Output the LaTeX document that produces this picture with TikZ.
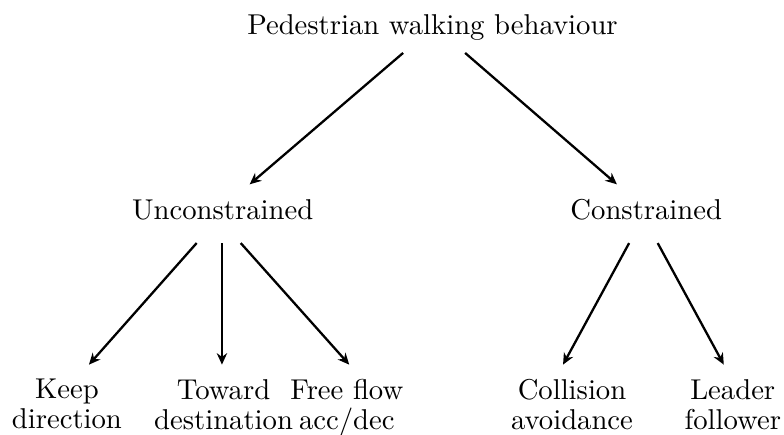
\documentclass[tikz,border=0pt]{standalone}
\usetikzlibrary{arrows.meta}

\tikzset{
  lbl/.style={inner sep=0pt, anchor=base},
  leaf/.style={inner sep=0pt, anchor=north, align=center},
  arr/.style={-{Stealth[length=4pt,width=3.6pt]}, thick}
}

\begin{document}
\begin{tikzpicture}
			\useasboundingbox (0,0) rectangle (9.608,5.319);
			% levels
			\node[lbl] (walk) at (5.30,4.89) {Pedestrian walking behaviour};
			\node[lbl] (unc) at (2.73,2.63) {Unconstrained};
			\node[lbl] (con) at (7.92,2.63) {Constrained};
			
			\node[leaf] (keep) at (0.82,0.68) {Keep\\[-1.5pt]direction};
			\node[leaf] (toward) at (2.74,0.68) {Toward\\[-1.5pt]destination};
			\node[leaf] (free) at (4.25,0.68) {Free flow\\[-1.5pt]acc/dec};
			\node[leaf] (coll) at (7.01,0.68) {Collision\\[-1.5pt]avoidance};
			\node[leaf] (lead) at (8.98,0.68) {Leader\\[-1.5pt]follower};
			
			\draw[arr] ([shift={(-0.36,-0.22)}]walk.base) -- ([shift={(0.33,0.43)}]unc.base);
			\draw[arr] ([shift={(0.40,-0.22)}]walk.base) -- ([shift={(-0.36,0.43)}]con.base);
			
			\draw[arr] ([shift={(-0.32,-0.29)}]unc.base) -- ([shift={(0.27,0.17)}]keep.north);
			\draw[arr] ([shift={(-0.01,-0.29)}]unc.base) -- ([shift={(-0.02,0.17)}]toward.north);
			\draw[arr] ([shift={(0.22,-0.29)}]unc.base) -- ([shift={(0.03,0.17)}]free.north);
			\draw[arr] ([shift={(-0.21,-0.29)}]con.base) -- ([shift={(-0.11,0.17)}]coll.north);
			\draw[arr] ([shift={(0.14,-0.29)}]con.base) -- ([shift={(-0.11,0.17)}]lead.north);
		\end{tikzpicture}
\end{document}
